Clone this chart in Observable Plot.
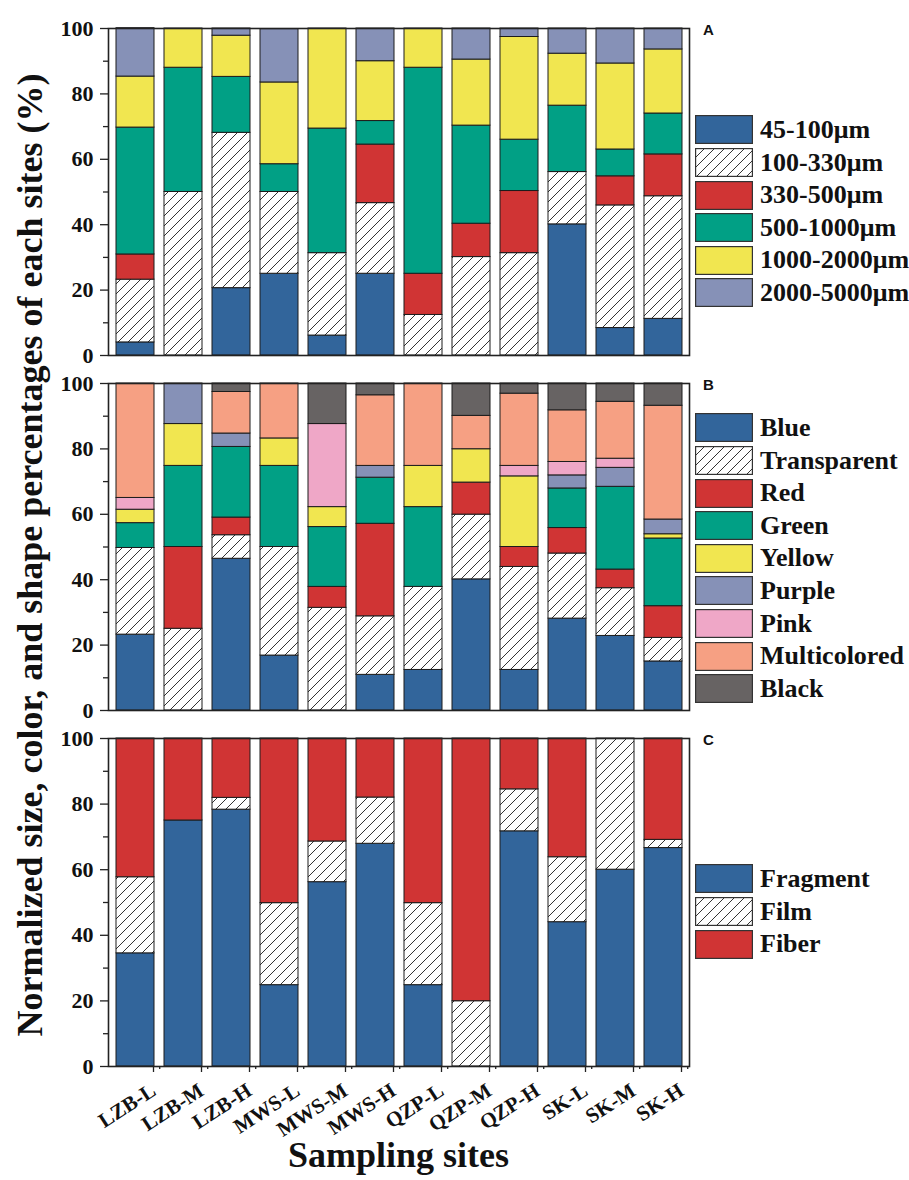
<!DOCTYPE html>
<html><head><meta charset="utf-8">
<script src="https://cdn.jsdelivr.net/npm/d3@7"></script>
<script src="https://cdn.jsdelivr.net/npm/@observablehq/plot@0.6"></script>
<style>
body{margin:0;background:#fff;}
#fig{position:relative;width:909px;height:1180px;overflow:hidden;font-family:"Liberation Serif","Times New Roman",serif;font-weight:bold;color:#111;}
.panel{position:absolute;left:0;}
.letter{position:absolute;font-family:"Liberation Sans",Arial,sans-serif;font-weight:bold;font-size:15px;line-height:1;}
.legend{position:absolute;left:695px;}
.legrow{height:32.6px;display:flex;align-items:center;}
.legrow svg{display:block;flex:none;}
.legrow span{margin-left:7px;font-size:26px;white-space:nowrap;line-height:1;}
#ytitle{position:absolute;left:30px;top:555px;width:1100px;margin-left:-550px;text-align:center;transform:translateY(-50%) rotate(-90deg);font-size:36px;line-height:1;white-space:nowrap;}
#xtitle{position:absolute;left:108px;width:581px;top:1137px;text-align:center;font-size:36px;line-height:1;}
</style></head><body>
<svg width="0" height="0" style="position:absolute">
<defs>
<pattern id="hatch" patternUnits="userSpaceOnUse" width="10" height="10">
<rect width="10" height="10" fill="#fff"/>
<path d="M0,10 L10,0 M-2,2 L2,-2 M8,12 L12,8" stroke="#333" stroke-width="1"/>
</pattern>
</defs>
</svg>
<div id="fig">
<div id="ytitle">Normalized size, color, and shape percentages of each sites (%)</div>
<div id="xtitle">Sampling sites</div>
</div>
<script>
const sites = ["LZB-L","LZB-M","LZB-H","MWS-L","MWS-M","MWS-H","QZP-L","QZP-M","QZP-H","SK-L","SK-M","SK-H"];

// Panel A: size
const sizeCats = ["45-100μm","100-330μm","330-500μm","500-1000μm","1000-2000μm","2000-5000μm"];
const size45_100    = [4, 0, 20.6, 25, 6.1, 25, 0, 0, 0, 40.1, 8.4, 11.2];
const size100_330   = [19.2, 50, 47.5, 25, 25.2, 21.6, 12.4, 30.1, 31.3, 16, 37.5, 37.5];
const size330_500   = [7.7, 0, 0, 0, 0, 17.9, 12.6, 10.2, 19, 0, 8.9, 12.8];
const size500_1000  = [38.8, 38, 17.1, 8.5, 38.1, 7.2, 63, 30, 15.7, 20.3, 8.2, 12.5];
const size1000_2000 = [15.6, 12, 12.6, 25, 30.6, 18.3, 12, 20.2, 31.4, 15.9, 26.3, 19.6];
const size2000_5000 = [14.8, 0, 2.2, 16.3, 0, 10, 0, 9.5, 2.6, 7.7, 10.7, 6.4];

// Panel B: color
const colorCats = ["Blue","Transparent","Red","Green","Yellow","Purple","Pink","Multicolored","Black"];
const colorBlue        = [23.2, 0, 46.4, 16.8, 0, 10.9, 12.4, 40.1, 12.4, 28.1, 22.8, 15];
const colorTransparent = [26.5, 25, 7.2, 33.2, 31.4, 17.9, 25.4, 19.8, 31.5, 19.9, 14.6, 7.2];
const colorRed         = [0, 25, 5.4, 0, 6.4, 28.3, 0, 9.8, 6.1, 7.8, 5.7, 9.7];
const colorGreen       = [7.6, 24.8, 21.6, 24.8, 18.3, 14.1, 24.4, 0, 0, 12.1, 25.3, 20.7];
const colorYellow      = [4.1, 12.8, 0, 8.4, 6.1, 0, 12.6, 10.2, 21.6, 0, 0, 1.3];
const colorPurple      = [0, 12.4, 4.1, 0, 0, 3.6, 0, 0, 0, 4, 5.8, 4.5];
const colorPink        = [3.6, 0, 0, 0, 25.4, 0, 0, 0, 3.2, 4.1, 2.8, 0];
const colorMulti       = [35, 0, 12.7, 16.8, 0, 21.6, 25.2, 10.2, 22.1, 15.8, 17.4, 34.8];
const colorBlack       = [0, 0, 2.6, 0, 12.4, 3.6, 0, 9.9, 3.1, 8.2, 5.6, 6.8];

// Panel C: shape
const shapeCats = ["Fragment","Film","Fiber"];
const shapeFragment = [34.5, 75, 78.3, 24.8, 56.2, 67.9, 24.8, 0, 71.7, 44, 60, 66.6];
const shapeFilm     = [23.2, 0, 3.6, 25, 12.4, 14.1, 25, 19.9, 12.8, 19.8, 40, 2.5];
const shapeFiber    = [42.3, 25, 18.1, 50.2, 31.4, 18, 50.2, 80.1, 15.5, 36.2, 0, 30.9];

const yMajor = [0, 20, 40, 60, 80, 100];
const yMinor = [10, 30, 50, 70, 90];

const C = {blue:"#32659b", hatch:"url(#hatch)", red:"#d03434", green:"#01a085", yellow:"#f1e650",
  purple:"#8691b7", pink:"#efa7c7", multi:"#f6a083", black:"#676363"};

const panels = [
  {letter:"A", cats:sizeCats, series:[size45_100,size100_330,size330_500,size500_1000,size1000_2000,size2000_5000],
   colors:[C.blue,C.hatch,C.red,C.green,C.yellow,C.purple], top:0, height:360, mt:28, mb:5, legendTop:116, xaxis:false},
  {letter:"B", cats:colorCats, series:[colorBlue,colorTransparent,colorRed,colorGreen,colorYellow,colorPurple,colorPink,colorMulti,colorBlack],
   colors:[C.blue,C.hatch,C.red,C.green,C.yellow,C.purple,C.pink,C.multi,C.black], top:360, height:355, mt:23, mb:5, legendTop:414, xaxis:false},
  {letter:"C", cats:shapeCats, series:[shapeFragment,shapeFilm,shapeFiber],
   colors:[C.blue,C.hatch,C.red], top:715, height:420, mt:23, mb:69, legendTop:865, xaxis:true}
];

const W = 909, ML = 108, MR = 220;
const pIn = 0.215, pOut = 0.107;
const step = (W - ML - MR) / (sites.length - pIn + 2 * pOut);
const fig = document.getElementById("fig");

for (const p of panels) {
  const data = sites.flatMap((s, i) => p.cats.map((c, j) => ({site: s, cat: c, value: p.series[j][i]})))
    .filter(d => d.value > 0);
  const marks = [
    Plot.barY(data, {x: "site", y: "value", fill: "cat", stroke: "#1c1c1c", strokeWidth: 1}),
    Plot.axisY(yMajor, {tickSize: 8, tickPadding: 7, fontSize: 22, fontWeight: "bold", stroke: "#222", strokeWidth: 1.3, label: null}),
    Plot.axisY(yMinor, {tickSize: 5, tickFormat: () => "", stroke: "#222", strokeWidth: 1.3, label: null}),
    Plot.frame({stroke: "#222", strokeWidth: 1.6})
  ];
  if (p.xaxis) {
    marks.push(Plot.axisX(sites, {tickSize: 6, tickRotate: -33, tickPadding: 16, dx: 18, fontSize: 21, fontWeight: "bold", stroke: "#222", strokeWidth: 1.3, label: null}));
    marks.push(Plot.axisX(sites, {tickSize: 3, dx: step / 2, tickFormat: () => "", stroke: "#222", strokeWidth: 1.3, label: null}));
  }
  const chart = Plot.plot({
    width: W, height: p.height,
    marginLeft: ML, marginRight: MR, marginTop: p.mt, marginBottom: p.mb,
    style: {fontFamily: "'Liberation Serif','Times New Roman',serif", color: "#111", background: "transparent", overflow: "visible"},
    x: {domain: sites, paddingInner: pIn, paddingOuter: pOut, axis: null, label: null},
    y: {domain: [0, 100], axis: null, label: null},
    color: {domain: p.cats, range: p.colors},
    marks
  });
  chart.classList.add("panel");
  chart.style.top = p.top + "px";
  fig.appendChild(chart);

  const letter = document.createElement("div");
  letter.className = "letter";
  letter.textContent = p.letter;
  letter.style.left = "703px";
  letter.style.top = (p.top + p.mt - 6) + "px";
  fig.appendChild(letter);

  const leg = document.createElement("div");
  leg.className = "legend";
  leg.style.top = (p.legendTop - 2.3) + "px";
  p.cats.forEach((c, j) => {
    const row = document.createElement("div");
    row.className = "legrow";
    row.innerHTML = `<svg width="58" height="29"><rect x="0.6" y="0.6" width="56.8" height="27.8" fill="${p.colors[j]}" stroke="#333" stroke-width="1.2"/></svg><span>${c}</span>`;
    leg.appendChild(row);
  });
  fig.appendChild(leg);
}
</script>
</body></html>
